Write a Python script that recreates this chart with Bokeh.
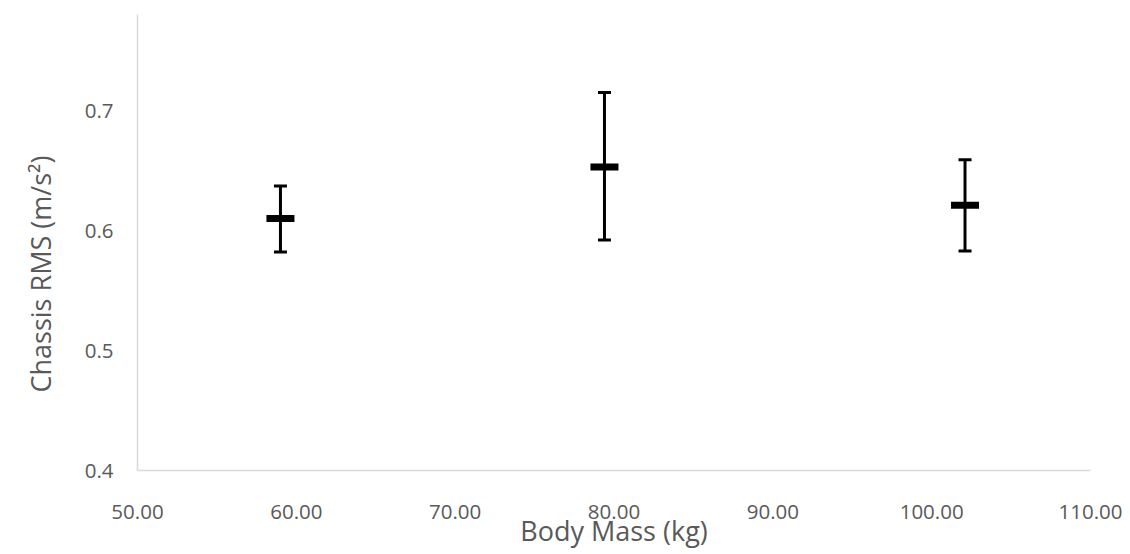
from bokeh.plotting import figure
from bokeh.models import (Range1d, FixedTicker, NumeralTickFormatter, Whisker,
                          ColumnDataSource, TeeHead, Title)
from bokeh.embed import file_html
from bokeh.resources import INLINE

# Body mass groups and chassis RMS acceleration (mean with upper/lower error)
body_mass = [59.0, 79.4, 102.1]
rms_mean = [0.610, 0.653, 0.621]
rms_upper = [0.637, 0.715, 0.659]
rms_lower = [0.582, 0.592, 0.583]

x_ticks = [50, 60, 70, 80, 90, 100, 110]
y_ticks = [0.4, 0.5, 0.6, 0.7]

FONT = "Open Sans"
TEXT = "#595959"
AXIS = "#d9d9d9"

p = figure(width=1130, height=554, output_backend="svg", toolbar_location=None,
           x_range=Range1d(50, 110), y_range=Range1d(0.4, 0.78),
           min_border_left=136, min_border_right=40, min_border_top=14, min_border_bottom=84)
p.outline_line_color = None
p.xgrid.visible = False
p.ygrid.visible = False
p.background_fill_color = "white"
p.border_fill_color = "white"

for ax in (p.xaxis[0], p.yaxis[0]):
    ax.axis_line_color = AXIS
    ax.axis_line_width = 1.5
    ax.major_tick_line_color = None
    ax.minor_tick_line_color = None
    ax.major_tick_out = 0
    ax.major_tick_in = 0
    ax.major_label_text_font = FONT
    ax.major_label_text_font_size = "20.5px"
    ax.major_label_text_color = TEXT
    ax.axis_label_text_font = FONT
    ax.axis_label_text_font_size = "27px"
    ax.axis_label_text_font_style = "normal"
    ax.axis_label_text_color = TEXT

p.xaxis.ticker = FixedTicker(ticks=x_ticks)
p.xaxis.formatter = NumeralTickFormatter(format="0.00")
p.xaxis.major_label_standoff = 34
p.xaxis.axis_label = "Body Mass (kg)"
p.xaxis.axis_label_standoff = -10

p.yaxis.ticker = FixedTicker(ticks=y_ticks)
p.yaxis.formatter = NumeralTickFormatter(format="0.0")
p.yaxis.major_label_standoff = 24

# vertical axis title as a side panel, sitting a little below the middle
y_title = Title(text="Chassis RMS (m/s²)", align="left", offset=78, standoff=42,
                vertical_align="top",
                text_font=FONT, text_font_size="27px", text_font_style="normal",
                text_color=TEXT)
p.add_layout(y_title, "left")

src = ColumnDataSource(dict(x=body_mass, y=rms_mean, upper=rms_upper, lower=rms_lower))

whisker = Whisker(base="x", upper="upper", lower="lower", source=src,
                  line_color="black", line_width=3,
                  upper_head=TeeHead(size=13, line_width=3, line_color="black"),
                  lower_head=TeeHead(size=13, line_width=3, line_color="black"))
p.add_layout(whisker)

p.rect(x="x", y="y", width=28, height=7, width_units="screen", height_units="screen",
       source=src, fill_color="black", line_color=None)

open("out.html", "w").write(file_html(p, INLINE))
